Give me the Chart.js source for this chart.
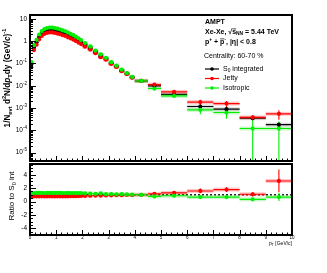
<!DOCTYPE html>
<html>
<head>
<meta charset="utf-8">
<script src="https://cdn.jsdelivr.net/npm/chart.js@4.4.1/dist/chart.umd.min.js"></script>
<style>
  body { margin: 0; background: #fff; width: 327px; height: 273px; position: relative; overflow: hidden; }
  canvas { position: absolute; left: 0; }
  #topPanel { top: 0; }
  #ratioPanel { top: 160px; }
</style>
</head>
<body>
<canvas id="topPanel" width="327" height="165"></canvas>
<canvas id="ratioPanel" width="327" height="113"></canvas>
<script>
// pT bin centres and half widths (GeV/c)
const ptCenters = [0.05, 0.15, 0.25, 0.35, 0.45, 0.55, 0.65, 0.75, 0.85, 0.95,
  1.05, 1.15, 1.25, 1.35, 1.45, 1.55, 1.65, 1.75, 1.85, 1.95,
  2.1, 2.3, 2.5, 2.7, 2.9, 3.1, 3.3, 3.5, 3.7, 3.9,
  4.25, 4.75, 5.5, 6.5, 7.5, 8.5, 9.5];
const ptHalfWidths = [0.05, 0.05, 0.05, 0.05, 0.05, 0.05, 0.05, 0.05, 0.05, 0.05,
  0.05, 0.05, 0.05, 0.05, 0.05, 0.05, 0.05, 0.05, 0.05, 0.05,
  0.1, 0.1, 0.1, 0.1, 0.1, 0.1, 0.1, 0.1, 0.1, 0.1,
  0.25, 0.25, 0.5, 0.5, 0.5, 0.5, 0.5];

// spectra
const integrated = [0.09, 0.52, 0.9, 1.56, 2.22, 2.75, 3.05, 3.2, 3.2, 3.05,
  2.85, 2.62, 2.4, 2.2, 1.92, 1.7, 1.48, 1.27, 1.08, 0.9,
  0.68, 0.49, 0.33, 0.215, 0.163, 0.103, 0.074, 0.048, 0.035, 0.024,
  0.0165, 0.0099, 0.0041, 0.00117, 0.00089, 0.00035, 0.00018];
const jetty = [0.068, 0.4, 0.7, 1.22, 1.73, 2.14, 2.35, 2.5, 2.48, 2.35,
  2.2, 2.05, 1.85, 1.72, 1.5, 1.34, 1.18, 1.02, 0.87, 0.74,
  0.57, 0.42, 0.29, 0.19, 0.148, 0.095, 0.07, 0.045, 0.034, 0.023,
  0.0166, 0.0113, 0.0053, 0.00185, 0.00158, 0.00038, 0.00055];
const isotropic = [0.115, 0.66, 1.15, 2.0, 2.85, 3.5, 3.9, 4.1, 4.1, 3.9,
  3.65, 3.35, 3.05, 2.8, 2.45, 2.15, 1.88, 1.6, 1.36, 1.12,
  0.82, 0.58, 0.38, 0.26, 0.18, 0.115, 0.08, 0.053, 0.037, 0.025,
  0.0165, 0.0075, 0.0035, 0.00083, 0.00063, 0.00012, 0.00012];

// statistical errors
const integratedErr = [0, 0, 0, 0, 0, 0, 0, 0, 0, 0, 0, 0, 0, 0, 0, 0, 0, 0, 0, 0,
  0, 0, 0, 0, 0, 0, 0, 0, 0, 0, 0.0008, 0.0006, 0.0004, 0.00025, 0.0002, 0.00006, 0.00004];
const jettyErr = [0, 0, 0, 0, 0, 0, 0, 0, 0, 0, 0, 0, 0, 0, 0, 0, 0, 0, 0, 0,
  0, 0, 0, 0, 0, 0, 0, 0, 0, 0, 0.001, 0.0008, 0.0006, 0.0005, 0.0005, 0.0001, 0.00025];
const isotropicErr = [0, 0, 0, 0, 0, 0, 0, 0, 0, 0, 0, 0, 0, 0, 0, 0, 0, 0, 0, 0,
  0, 0, 0, 0, 0, 0, 0, 0, 0, 0, 0.0008, 0.0006, 0.0004, 0.0003, 0.0003, 0.00023, 0.00013];

// ratios to S0 integrated
const jettyRatio = [0.75, 0.77, 0.78, 0.78, 0.78, 0.78, 0.77, 0.78, 0.78, 0.77,
  0.77, 0.78, 0.77, 0.78, 0.78, 0.79, 0.8, 0.8, 0.81, 0.82,
  0.84, 0.86, 0.88, 0.88, 0.91, 0.92, 0.95, 0.94, 0.97, 0.96,
  1.0, 1.14, 1.29, 1.58, 1.78, 1.08, 3.07];
const isotropicRatio = [1.3, 1.27, 1.28, 1.28, 1.28, 1.27, 1.28, 1.28, 1.28, 1.28,
  1.28, 1.28, 1.27, 1.27, 1.28, 1.26, 1.27, 1.26, 1.26, 1.24,
  1.21, 1.18, 1.15, 1.2, 1.1, 1.12, 1.08, 1.1, 1.06, 1.04,
  1.0, 0.76, 0.86, 0.66, 0.66, 0.32, 0.66];
const jettyRatioErr = [0, 0, 0, 0, 0, 0, 0, 0, 0, 0, 0, 0, 0, 0, 0, 0, 0, 0, 0, 0,
  0, 0, 0, 0, 0, 0, 0, 0, 0, 0, 0.08, 0.12, 0.15, 0.35, 0.35, 0.3, 1.7];
const isotropicRatioErr = [0, 0, 0, 0, 0, 0, 0, 0, 0, 0, 0, 0, 0, 0, 0, 0, 0, 0, 0, 0,
  0, 0, 0, 0, 0, 0, 0, 0, 0, 0, 0.06, 0.08, 0.1, 0.15, 0.2, 0.2, 0.6];

// axis ticks
const xTicks = [0, 1, 2, 3, 4, 5, 6, 7, 8, 9, 10];
const logTickExps = [1, 0, -1, -2, -3, -4, -5];
const ratioTicks = [-4, -2, 0, 2, 4];

const FONT = '"Liberation Sans", Arial, Helvetica, sans-serif';
const BLACK = '#000000', RED = '#ff0000', GREEN = '#00ee00';

function pts(vals, errs) {
  return ptCenters.map((x, i) => ({ x: x, y: vals[i], xe: ptHalfWidths[i], ye: errs[i] }));
}

// rich text: segs = [[text, kind]], kind '', 'sub', 'sup', 'it', 'bar'
function rich(ctx, segs, x, y, size, bold, align) {
  const fontOf = k => {
    const s = (k === 'sub' || k === 'sup') ? size * 0.7 : size;
    return (k === 'it' ? 'italic ' : '') + (bold ? 'bold ' : '') + s + 'px ' + FONT;
  };
  const widths = segs.map(([t, k]) => { ctx.font = fontOf(k); return ctx.measureText(t).width; });
  const total = widths.reduce((a, b) => a + b, 0);
  let cx = align === 'right' ? x - total : align === 'center' ? x - total / 2 : x;
  ctx.textAlign = 'left';
  ctx.textBaseline = 'middle';
  segs.forEach(([t, k], i) => {
    ctx.font = fontOf(k);
    const dy = k === 'sub' ? size * 0.3 : k === 'sup' ? -size * 0.38 : 0;
    ctx.fillText(t, cx, y + dy);
    if (k === 'bar') {
      ctx.beginPath();
      ctx.lineWidth = 0.7;
      ctx.moveTo(cx, y - size * 0.45);
      ctx.lineTo(cx + widths[i], y - size * 0.45);
      ctx.stroke();
    }
    cx += widths[i];
  });
  return total;
}

// error bars + translucent boxes
const errorBars = {
  id: 'errorBars',
  beforeDatasetsDraw(chart) {
    const ctx = chart.ctx, a = chart.chartArea;
    const xs = chart.scales.x, ys = chart.scales.y;
    const isLog = ys.type === 'logarithmic';
    ctx.save();
    ctx.beginPath();
    ctx.rect(a.left, a.top, a.right - a.left, a.bottom - a.top);
    ctx.clip();
    const sets = chart.data.datasets.map((d, i) => i).sort((p, q) => chart.data.datasets[q].order - chart.data.datasets[p].order);
    sets.forEach(i => {
      const ds = chart.data.datasets[i];
      ds.data.forEach(p => {
        const x0 = xs.getPixelForValue(p.x - p.xe), x1 = xs.getPixelForValue(p.x + p.xe);
        const px = xs.getPixelForValue(p.x), py = ys.getPixelForValue(p.y);
        ctx.fillStyle = ds.boxColor;
        ctx.fillRect(x0, py - 2, x1 - x0, 4);
        ctx.strokeStyle = ds.borderColor;
        ctx.lineWidth = 1.1;
        ctx.beginPath();
        ctx.moveTo(x0, py); ctx.lineTo(x1, py);
        if (p.ye > 0) {
          const lo = p.y - p.ye;
          const yb = (isLog && lo <= 0) ? a.bottom : ys.getPixelForValue(lo);
          ctx.moveTo(px, ys.getPixelForValue(p.y + p.ye)); ctx.lineTo(px, yb);
        }
        ctx.stroke();
      });
    });
    ctx.restore();
  }
};

function drawXTicks(ctx, chart) {
  const a = chart.chartArea, xs = chart.scales.x;
  ctx.strokeStyle = BLACK;
  ctx.lineWidth = 1;
  ctx.beginPath();
  for (let i = 0; i <= 50; i++) {
    const v = i * 0.2;
    const px = Math.round(xs.getPixelForValue(v)) + 0.5;
    const len = i % 5 === 0 ? 5 : 2.5;
    ctx.moveTo(px, a.bottom); ctx.lineTo(px, a.bottom - len);
  }
  ctx.stroke();
}

function drawFrame(ctx, a) {
  ctx.strokeStyle = BLACK;
  ctx.lineWidth = 2;
  ctx.strokeRect(a.left, a.top, a.right - a.left, a.bottom - a.top);
}

const topDecor = {
  id: 'topDecor',
  afterDraw(chart) {
    const ctx = chart.ctx, a = chart.chartArea, ys = chart.scales.y;
    ctx.save();
    ctx.fillStyle = BLACK;
    ctx.strokeStyle = BLACK;
    // log ticks
    ctx.lineWidth = 1;
    ctx.beginPath();
    for (let e = -6; e <= 1; e++) {
      for (let m = 1; m <= 9; m++) {
        const v = m * Math.pow(10, e);
        if (v < ys.min || v > ys.max) continue;
        const py = Math.round(ys.getPixelForValue(v)) + 0.5;
        const len = m === 1 ? 6 : 3;
        ctx.moveTo(a.left, py); ctx.lineTo(a.left + len, py);
      }
    }
    ctx.stroke();
    logTickExps.forEach(e => {
      const py = ys.getPixelForValue(Math.pow(10, e));
      if (e === 0) rich(ctx, [['1', '']], a.left - 3, py, 6.5, false, 'right');
      else if (e === 1) rich(ctx, [['10', '']], a.left - 3, py, 6.5, false, 'right');
      else rich(ctx, [['10', ''], [String(e), 'sup']], a.left - 3, py, 6.5, false, 'right');
    });
    drawXTicks(ctx, chart);
    drawFrame(ctx, a);

    // y title
    ctx.save();
    ctx.translate(8, 78);
    ctx.rotate(-Math.PI / 2);
    rich(ctx, [['1/N', ''], ['evt', 'sub'], [' d', ''], ['2', 'sup'], ['N/d', ''], ['p', 'it'], ['T', 'sub'],
      ['dy (GeV/', ''], ['c', 'it'], [')', ''], ['-1', 'sup']], 0, 0, 8.2, true, 'center');
    ctx.restore();

    // labels
    rich(ctx, [['AMPT', '']], 205, 22, 7, true, 'left');
    rich(ctx, [['Xe-Xe, ', ''], ['\u221A', ''], ['s', 'bar'], ['NN', 'sub'], [' = 5.44 TeV', '']], 205, 32, 7, true, 'left');
    rich(ctx, [['p', ''], ['+', 'sup'], [' + ', ''], ['p', 'bar'], ['-', 'sup'], [', |\u03B7| < 0.8', '']], 205, 42, 7, true, 'left');
    rich(ctx, [['Centrality: 60-70 %', '']], 204, 56, 7, false, 'left');

    const entries = [
      [BLACK, [['S', ''], ['0', 'sub'], [' integrated', '']], 69],
      [RED, [['Jetty', '']], 78.5],
      [GREEN, [['Isotropic', '']], 88]
    ];
    entries.forEach(([col, segs, y]) => {
      ctx.strokeStyle = col;
      ctx.fillStyle = col;
      ctx.lineWidth = 1.2;
      ctx.beginPath();
      ctx.moveTo(205, y); ctx.lineTo(219, y);
      ctx.stroke();
      ctx.beginPath();
      ctx.arc(212, y, 1.8, 0, Math.PI * 2);
      ctx.fill();
      ctx.fillStyle = BLACK;
      rich(ctx, segs, 223, y, 7, false, 'left');
    });
    ctx.restore();
  }
};

const ratioDecor = {
  id: 'ratioDecor',
  beforeDatasetsDraw(chart) {
    const ctx = chart.ctx, a = chart.chartArea, ys = chart.scales.y;
    const py = ys.getPixelForValue(1);
    ctx.save();
    ctx.strokeStyle = BLACK;
    ctx.lineWidth = 1.3;
    ctx.setLineDash([2, 2]);
    ctx.beginPath();
    ctx.moveTo(a.left, py); ctx.lineTo(a.right, py);
    ctx.stroke();
    ctx.restore();
  },
  afterDraw(chart) {
    const ctx = chart.ctx, a = chart.chartArea, ys = chart.scales.y, xs = chart.scales.x;
    ctx.save();
    ctx.fillStyle = BLACK;
    ctx.strokeStyle = BLACK;
    ctx.lineWidth = 1;
    ctx.beginPath();
    for (let v = -5; v <= 5.5; v += 0.5) {
      const py = Math.round(ys.getPixelForValue(v)) + 0.5;
      const len = v % 2 === 0 ? 6 : 3;
      ctx.moveTo(a.left, py); ctx.lineTo(a.left + len, py);
    }
    ctx.stroke();
    ratioTicks.forEach(v => {
      rich(ctx, [[String(v), '']], a.left - 3, ys.getPixelForValue(v), 6.5, false, 'right');
    });
    drawXTicks(ctx, chart);
    drawFrame(ctx, a);
    xTicks.forEach(v => {
      rich(ctx, [[String(v), '']], xs.getPixelForValue(v), a.bottom + 3, 4.5, false, 'center');
    });
    rich(ctx, [['p', ''], ['T', 'sub'], [' [GeV/c]', '']], a.right, a.bottom + 9, 5, false, 'right');

    ctx.save();
    ctx.translate(12, 36);
    ctx.rotate(-Math.PI / 2);
    rich(ctx, [['Ratio to S', ''], ['0', 'sub'], [' int', '']], 0, 0, 8, false, 'center');
    ctx.restore();
    ctx.restore();
  }
};

function dataset(label, data, color, box, order) {
  return {
    label: label, data: data, backgroundColor: color, borderColor: color, boxColor: box,
    pointRadius: 2.1, pointStyle: 'circle', borderWidth: 0, order: order, showLine: false
  };
}

const baseOptions = (ymin, ymax, ytype, pad) => ({
  responsive: false,
  animation: false,
  events: [],
  layout: { padding: pad },
  scales: {
    x: { type: 'linear', min: 0, max: 10, display: false },
    y: { type: ytype, min: ymin, max: ymax, display: false }
  },
  plugins: { legend: { display: false }, tooltip: { enabled: false } }
});

new Chart(document.getElementById('topPanel'), {
  type: 'scatter',
  data: {
    datasets: [
      dataset('S0 integrated', pts(integrated, integratedErr), BLACK, 'rgba(0,0,0,0.15)', 2),
      dataset('Jetty', pts(jetty, jettyErr), RED, 'rgba(255,0,0,0.22)', 1),
      dataset('Isotropic', pts(isotropic, isotropicErr), GREEN, 'rgba(0,220,0,0.22)', 0)
    ]
  },
  options: baseOptions(4.2e-6, 15, 'logarithmic', { left: 30, right: 35, top: 15, bottom: 2 }),
  plugins: [errorBars, topDecor]
});

new Chart(document.getElementById('ratioPanel'), {
  type: 'scatter',
  data: {
    datasets: [
      dataset('Jetty', pts(jettyRatio, jettyRatioErr), RED, 'rgba(255,0,0,0.22)', 1),
      dataset('Isotropic', pts(isotropicRatio, isotropicRatioErr), GREEN, 'rgba(0,220,0,0.22)', 0)
    ]
  },
  options: baseOptions(-5, 5.6, 'linear', { left: 30, right: 35, top: 3, bottom: 38 }),
  plugins: [ratioDecor, errorBars]
});
</script>
</body>
</html>
